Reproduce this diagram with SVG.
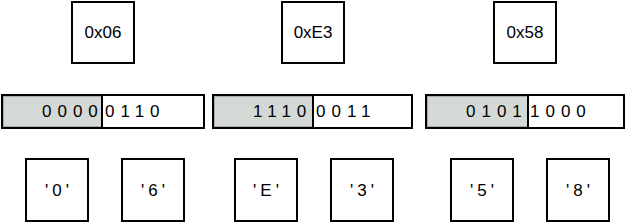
<svg xmlns="http://www.w3.org/2000/svg" width="626" height="224" viewBox="0 0 626 224">
<style>
.box{fill:#fff;stroke:#000;stroke-width:2}
.hi{fill:#d5d9d5;stroke:#a9ada9;stroke-width:1}
.t{font-family:"Liberation Sans",Arial,sans-serif;font-size:17px;fill:#000}
.b{font-family:"Liberation Sans",Arial,sans-serif;font-size:17px;fill:#000;letter-spacing:6px}
.q{font-family:"Liberation Sans",Arial,sans-serif;font-size:17px;fill:#000;letter-spacing:4px}
</style>
<rect width="626" height="224" fill="#fff"/>
<g id="hex1"><rect class="box" x="72" y="2" width="62" height="61"/><text class="t" x="103" y="38" text-anchor="middle">0x06</text></g>
<g id="hex2"><rect class="box" x="282" y="2" width="62" height="61"/><text class="t" x="313" y="38" text-anchor="middle">0xE3</text></g>
<g id="hex3"><rect class="box" x="494" y="2" width="62" height="61"/><text class="t" x="525" y="38" text-anchor="middle">0x58</text></g>

<g id="bits1"><rect class="box" x="2" y="95" width="202" height="33"/><rect class="hi" x="3.5" y="96.5" width="98" height="30"/><line x1="102" y1="95" x2="102" y2="128" stroke="#000" stroke-width="2"/><text class="b" x="42" y="117">0000</text><text class="b" x="105" y="117">0110</text></g>
<g id="bits2"><rect class="box" x="213" y="95" width="199" height="33"/><rect class="hi" x="214.5" y="96.5" width="98" height="30"/><line x1="313" y1="95" x2="313" y2="128" stroke="#000" stroke-width="2"/><text class="b" x="253" y="117">1110</text><text class="b" x="316" y="117">0011</text></g>
<g id="bits3"><rect class="box" x="426" y="95" width="198" height="33"/><rect class="hi" x="427.5" y="96.5" width="100" height="30"/><line x1="528" y1="95" x2="528" y2="128" stroke="#000" stroke-width="2"/><text class="b" x="466" y="117">0101</text><text class="b" x="530" y="117">1000</text></g>

<g id="c0"><rect class="box" x="26" y="159" width="62" height="62"/><text class="q" x="59" y="196" text-anchor="middle">'0'</text></g>
<g id="c6"><rect class="box" x="122" y="159" width="62" height="62"/><text class="q" x="155" y="196" text-anchor="middle">'6'</text></g>
<g id="cE"><rect class="box" x="235" y="159" width="62" height="62"/><text class="q" x="268" y="196" text-anchor="middle">'E'</text></g>
<g id="c3"><rect class="box" x="331" y="159" width="62" height="62"/><text class="q" x="364" y="196" text-anchor="middle">'3'</text></g>
<g id="c5"><rect class="box" x="451" y="159" width="62" height="62"/><text class="q" x="484" y="196" text-anchor="middle">'5'</text></g>
<g id="c8"><rect class="box" x="547" y="159" width="62" height="62"/><text class="q" x="580" y="196" text-anchor="middle">'8'</text></g>
<g id="connectors"></g>
</svg>
